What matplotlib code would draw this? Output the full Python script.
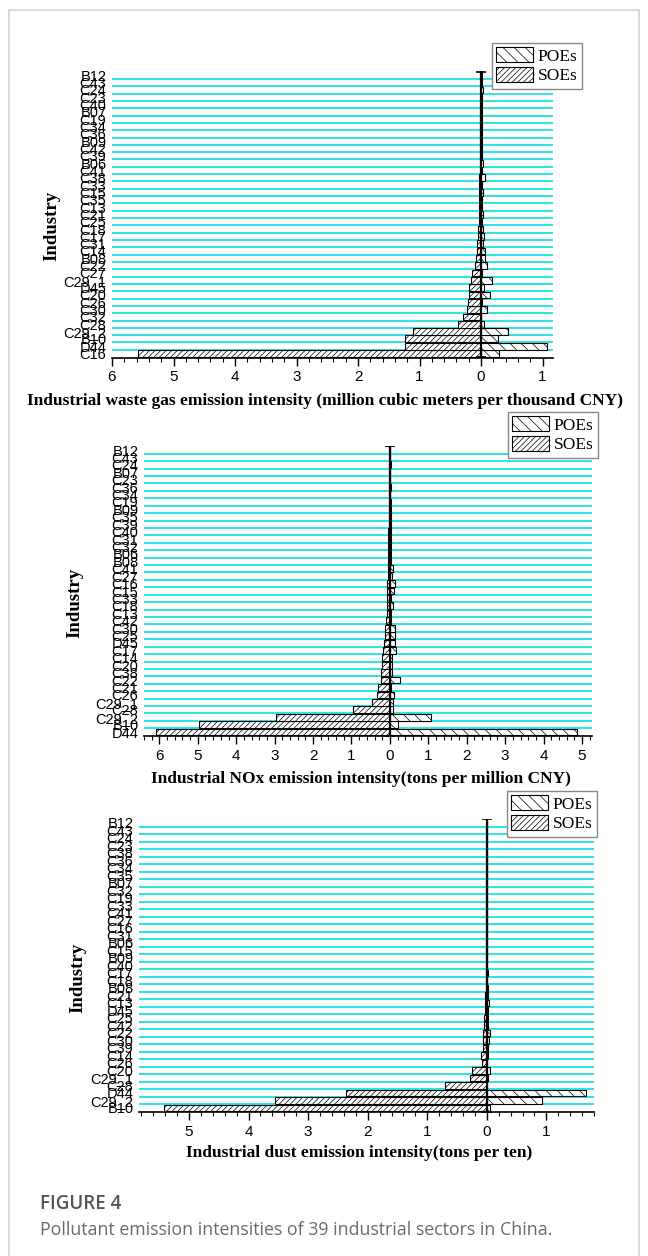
import numpy as np
import matplotlib
matplotlib.use('Agg')
import matplotlib.pyplot as plt
from matplotlib.patches import Patch
from matplotlib.lines import Line2D
from matplotlib.ticker import MultipleLocator, FuncFormatter

# industries listed bottom -> top for each panel, SOEs go left, POEs go right
gas_labels = ['C16', 'D44', 'B10', 'C29_2', 'C28', 'C32', 'C30', 'C26', 'C20', 'D45',
              'C29_1', 'C27', 'C22', 'B08', 'C14', 'C31', 'C17', 'C18', 'C25', 'C21',
              'C13', 'C35', 'C15', 'C33', 'C38', 'C41', 'B06', 'C39', 'C42', 'B09',
              'C36', 'C34', 'C19', 'B07', 'C40', 'C23', 'C24', 'C43', 'B12']
gas_soe = [5.58, 1.24, 1.23, 1.10, 0.37, 0.30, 0.23, 0.22, 0.19, 0.19,
           0.17, 0.15, 0.10, 0.08, 0.07, 0.06, 0.05, 0.05, 0.04, 0.04,
           0.035, 0.03, 0.03, 0.03, 0.025, 0.02, 0.02, 0.02, 0.02, 0.015,
           0.015, 0.01, 0.01, 0.01, 0.01, 0.005, 0.005, 0.005, 0.005]
gas_poe = [0.30, 1.07, 0.28, 0.44, 0.05, 0.00, 0.10, 0.02, 0.15, 0.05,
           0.18, 0.02, 0.10, 0.06, 0.06, 0.04, 0.05, 0.03, 0.02, 0.03,
           0.02, 0.02, 0.03, 0.02, 0.06, 0.02, 0.03, 0.01, 0.02, 0.02,
           0.02, 0.01, 0.01, 0.01, 0.02, 0.01, 0.04, 0.01, 0.02]

nox_labels = ['D44', 'B10', 'C29_2', 'C28', 'C29_1', 'C26', 'C21', 'C22', 'C38', 'C20',
              'C14', 'C17', 'D45', 'C25', 'C30', 'C42', 'C13', 'C18', 'C33', 'C15',
              'C16', 'C27', 'C41', 'B08', 'B06', 'C32', 'C31', 'C40', 'C39', 'C35',
              'B09', 'C19', 'C34', 'C36', 'C23', 'B07', 'C24', 'C43', 'B12']
nox_soe = [6.08, 4.97, 2.96, 0.96, 0.47, 0.34, 0.30, 0.23, 0.22, 0.21,
           0.20, 0.19, 0.16, 0.13, 0.12, 0.10, 0.08, 0.07, 0.065, 0.065,
           0.07, 0.055, 0.06, 0.05, 0.05, 0.045, 0.04, 0.04, 0.035, 0.03,
           0.03, 0.025, 0.025, 0.02, 0.02, 0.015, 0.015, 0.01, 0.01]
nox_poe = [4.86, 0.20, 1.07, 0.09, 0.09, 0.11, 0.02, 0.25, 0.05, 0.05,
           0.05, 0.16, 0.14, 0.14, 0.12, 0.03, 0.03, 0.09, 0.03, 0.11,
           0.14, 0.05, 0.09, 0.04, 0.03, 0.03, 0.02, 0.03, 0.02, 0.02,
           0.02, 0.02, 0.01, 0.02, 0.01, 0.01, 0.02, 0.01, 0.01]

dust_labels = ['B10', 'C29_2', 'D44', 'C28', 'C29_1', 'C20', 'C26', 'C14', 'C39', 'C30',
               'C22', 'C42', 'C25', 'D45', 'C13', 'C21', 'B08', 'C18', 'C17', 'C40',
               'B09', 'C15', 'B06', 'C31', 'C16', 'C27', 'C41', 'C33', 'C19', 'C32',
               'B07', 'C35', 'C34', 'C36', 'C38', 'C23', 'C24', 'C43', 'B12']
dust_soe = [5.42, 3.55, 2.37, 0.71, 0.29, 0.25, 0.08, 0.09, 0.06, 0.065,
            0.07, 0.05, 0.045, 0.03, 0.03, 0.025, 0.02, 0.02, 0.02, 0.02,
            0.015, 0.015, 0.015, 0.01, 0.01, 0.01, 0.01, 0.01, 0.01, 0.01,
            0.01, 0.005, 0.005, 0.005, 0.005, 0.005, 0.005, 0.005, 0.005]
dust_poe = [0.06, 0.92, 1.66, 0.00, 0.02, 0.06, 0.01, 0.02, 0.02, 0.03,
            0.05, 0.02, 0.02, 0.02, 0.03, 0.02, 0.02, 0.01, 0.02, 0.01,
            0.01, 0.01, 0.01, 0.01, 0.01, 0.01, 0.01, 0.01, 0.01, 0.01,
            0.01, 0.01, 0.01, 0.01, 0.01, 0.01, 0.01, 0.01, 0.01]

gas_title = 'Industrial waste gas emission intensity (million cubic meters per thousand CNY)'
nox_title = 'Industrial NOx emission intensity(tons per million CNY)'
dust_title = 'Industrial dust emission intensity(tons per ten)'

plt.rcParams['hatch.linewidth'] = 0.5
W, H = 648, 1256
fig = plt.figure(figsize=(W / 100, H / 100), dpi=100)

serif = 'Liberation Serif'
sans = 'Liberation Sans'


def add_ax(left, right, top, bottom):
    return fig.add_axes([left / W, 1 - bottom / H, (right - left) / W, (bottom - top) / H])


# (labels, soe, poe, box px, xlim, major tick range, xlabel, xlabel y px, ylabel pos px, legend corner px)
panels = [
    (gas_labels, gas_soe, gas_poe, (112, 553, 70.9, 357.5), (-6.0, 1.17), (-6, 1),
     gas_title, 401, (52, 226), (582, 43)),
    (nox_labels, nox_soe, nox_poe, (144, 592, 445.6, 736.1), (-6.4, 5.26), (-6, 5),
     nox_title, 779, (75, 603), (598, 412)),
    (dust_labels, dust_soe, dust_poe, (139, 594, 818.5, 1112.1), (-5.84, 1.8), (-5, 1),
     dust_title, 1153, (78, 978), (597, 791)),
]

for labels, soe, poe, box, xlim, tick_rng, xlabel, xl_y, yl_pos, leg_pos in panels:
    ax = add_ax(*box)
    n = len(labels)
    y = np.arange(n)
    ax.barh(y, -np.array(soe), height=0.92, color='white', edgecolor='black',
            linewidth=0.8, hatch='//////', zorder=3)
    ax.barh(y, poe, height=0.92, color='white', edgecolor='black',
            linewidth=0.8, hatch='\\\\\\', zorder=3)
    ax.plot([0, 0], [-0.5, n - 0.5], color='black', lw=1.6,
            marker='_', ms=7, mew=1.2, zorder=4)

    ax.set_xlim(*xlim)
    ax.set_ylim(-0.55, n - 0.4)
    ax.set_xticks(np.arange(tick_rng[0], tick_rng[1] + 1))
    ax.xaxis.set_minor_locator(MultipleLocator(0.2))
    ax.xaxis.set_major_formatter(FuncFormatter(lambda v, p: '%d' % abs(round(v))))
    ax.set_yticks(y)
    ax.set_yticklabels(labels, fontfamily=sans, fontsize=10.5)
    # cyan separators sit between neighbouring bars
    ax.set_yticks(y[:-1] + 0.5, minor=True)
    ax.tick_params(axis='y', which='both', length=0, pad=4)
    ax.tick_params(axis='x', which='major', length=6, width=1, direction='out',
                   labelsize=11, pad=3)
    ax.tick_params(axis='x', which='minor', length=3, width=0.8, direction='out')
    for lab in ax.get_xticklabels():
        lab.set_fontfamily(sans)
    for s in ['left', 'right', 'top']:
        ax.spines[s].set_visible(False)
    ax.spines['bottom'].set_linewidth(1.2)
    ax.yaxis.grid(True, which='minor', color='#1de2e2', lw=1.3)
    ax.set_axisbelow(True)
    ax.set_facecolor('none')

    cx = (box[0] + box[1]) / 2 - 7
    fig.text(cx / W, 1 - xl_y / H, xlabel, ha='center', va='center',
             fontfamily=serif, fontweight='bold', fontsize=12.5)
    fig.text(yl_pos[0] / W, 1 - yl_pos[1] / H, 'Industry', rotation=90,
             ha='center', va='center', fontfamily=serif, fontweight='bold', fontsize=13.5)

    handles = [Patch(facecolor='white', edgecolor='black', hatch='\\\\\\', lw=0.8, label='POEs'),
               Patch(facecolor='white', edgecolor='black', hatch='//////', lw=0.8, label='SOEs')]
    leg = fig.legend(handles=handles, loc='upper right',
                     bbox_to_anchor=(leg_pos[0] / W, 1 - leg_pos[1] / H),
                     prop={'family': serif, 'size': 12.5}, fancybox=False,
                     edgecolor='#888888', framealpha=1, borderpad=0.25,
                     handlelength=2.1, handleheight=0.9, handletextpad=0.3,
                     labelspacing=0.15, borderaxespad=0)
    leg.get_frame().set_linewidth(1.0)

# page frame and caption
for xs, ys in [([9, 9], [10, H]), ([9, 639], [10, 10]), ([639, 639], [10, H])]:
    fig.add_artist(Line2D([x / W for x in xs], [1 - v / H for v in ys],
                          color='#d4d4d4', lw=1.2))
fig.text(40 / W, 1 - 1204 / H, 'FIGURE 4', ha='left', va='center',
         fontfamily='Open Sans', fontsize=13.5, fontweight='semibold', color='#555555')
fig.text(40 / W, 1 - 1230 / H, 'Pollutant emission intensities of 39 industrial sectors in China.',
         ha='left', va='center', fontfamily='Open Sans', fontsize=12.8, color='#6a6a6a')

fig.savefig('out.png', dpi=100)
